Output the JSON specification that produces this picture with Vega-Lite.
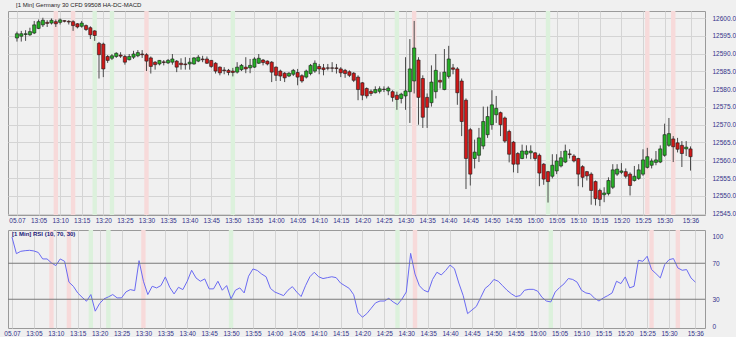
{
"$schema":"https://vega.github.io/schema/vega-lite/v6.json",
"background":"#f0f0f0",
"padding":{"left":3,"top":1,"right":0,"bottom":0},
"config":{"view":{"stroke":"#9a9a9a","fill":"#f0f0f0"},"axis":{"labelFont":"Liberation Sans","labelFontSize":6.5,"labelColor":"#33338a","gridColor":"#d4d4d4","gridWidth":1,"ticks":false,"domain":false,"title":null,"labelOverlap":false},"axisY":{"labelOverlap":false,"labelSeparation":-30},"concat":{"spacing":3}},
"datasets":{
"p":[
{"t":"2019-07-05T13:00","o":12594.4,"h":12596.2,"l":12593.4,"c":12595.6,"r":99},
{"t":"2019-07-05T13:01","o":12594.9,"h":12596.4,"l":12593.4,"c":12595.6,"r":80.7},
{"t":"2019-07-05T13:02","o":12595.4,"h":12596.6,"l":12593.6,"c":12595.6,"r":83.3},
{"t":"2019-07-05T13:03","o":12595.3,"h":12597.3,"l":12595.0,"c":12596.2,"r":84},
{"t":"2019-07-05T13:04","o":12595.8,"h":12599.2,"l":12595.5,"c":12598.1,"r":84.4},
{"t":"2019-07-05T13:05","o":12597.1,"h":12599.6,"l":12596.9,"c":12599.0,"r":83.7},
{"t":"2019-07-05T13:06","o":12598.1,"h":12600.1,"l":12597.5,"c":12599.4,"r":82},
{"t":"2019-07-05T13:07","o":12598.8,"h":12599.4,"l":12597.5,"c":12598.5,"r":74.8},
{"t":"2019-07-05T13:08","o":12598.6,"h":12599.9,"l":12598.2,"c":12599.4,"r":74.8},
{"t":"2019-07-05T13:09","o":12599.0,"h":12599.6,"l":12597.5,"c":12598.4,"r":70.4},
{"t":"2019-07-05T13:10","o":12598.8,"h":12599.9,"l":12598.2,"c":12599.5,"r":67.4},
{"t":"2019-07-05T13:11","o":12599.3,"h":12599.4,"l":12598.8,"c":12599.1,"r":74.8},
{"t":"2019-07-05T13:12","o":12599.1,"h":12599.4,"l":12598.2,"c":12598.9,"r":72.2},
{"t":"2019-07-05T13:13","o":12599.0,"h":12599.4,"l":12596.4,"c":12597.9,"r":49},
{"t":"2019-07-05T13:14","o":12598.4,"h":12598.6,"l":12597.1,"c":12597.5,"r":44.4},
{"t":"2019-07-05T13:15","o":12597.7,"h":12599.2,"l":12597.3,"c":12598.6,"r":37},
{"t":"2019-07-05T13:16","o":12597.9,"h":12598.2,"l":12596.4,"c":12596.8,"r":32.2},
{"t":"2019-07-05T13:17","o":12597.3,"h":12597.7,"l":12594.1,"c":12595.3,"r":27.8},
{"t":"2019-07-05T13:18","o":12596.4,"h":12596.6,"l":12593.6,"c":12595.1,"r":35.2},
{"t":"2019-07-05T13:19","o":12592.9,"h":12593.3,"l":12583.0,"c":12589.7,"r":16.7},
{"t":"2019-07-05T13:20","o":12592.7,"h":12593.1,"l":12583.4,"c":12585.7,"r":25.2},
{"t":"2019-07-05T13:21","o":12589.2,"h":12589.6,"l":12587.4,"c":12588.1,"r":30.4},
{"t":"2019-07-05T13:22","o":12588.7,"h":12589.9,"l":12588.2,"c":12589.4,"r":32.6},
{"t":"2019-07-05T13:23","o":12589.2,"h":12590.4,"l":12588.8,"c":12590.1,"r":35.2},
{"t":"2019-07-05T13:24","o":12589.6,"h":12590.4,"l":12588.8,"c":12589.3,"r":31.5},
{"t":"2019-07-05T13:25","o":12589.2,"h":12589.7,"l":12586.9,"c":12587.6,"r":31.5},
{"t":"2019-07-05T13:26","o":12588.3,"h":12589.9,"l":12588.1,"c":12589.2,"r":38.1},
{"t":"2019-07-05T13:27","o":12589.0,"h":12590.8,"l":12588.5,"c":12589.9,"r":40.7},
{"t":"2019-07-05T13:28","o":12589.4,"h":12591.0,"l":12589.0,"c":12590.3,"r":39.6},
{"t":"2019-07-05T13:29","o":12589.9,"h":12591.0,"l":12588.8,"c":12589.7,"r":72.9},
{"t":"2019-07-05T13:30","o":12589.7,"h":12590.1,"l":12585.1,"c":12587.9,"r":50},
{"t":"2019-07-05T13:31","o":12588.8,"h":12589.2,"l":12584.4,"c":12586.4,"r":35.2},
{"t":"2019-07-05T13:32","o":12587.6,"h":12587.9,"l":12585.5,"c":12586.9,"r":44.4},
{"t":"2019-07-05T13:33","o":12587.1,"h":12588.2,"l":12586.7,"c":12588.1,"r":42.6},
{"t":"2019-07-05T13:34","o":12587.7,"h":12588.2,"l":12586.7,"c":12587.5,"r":45.2},
{"t":"2019-07-05T13:35","o":12587.4,"h":12588.5,"l":12587.1,"c":12588.1,"r":54.8},
{"t":"2019-07-05T13:36","o":12587.6,"h":12589.9,"l":12586.9,"c":12588.5,"r":43.3},
{"t":"2019-07-05T13:37","o":12587.9,"h":12588.2,"l":12584.8,"c":12586.2,"r":35.9},
{"t":"2019-07-05T13:38","o":12587.3,"h":12588.7,"l":12585.5,"c":12586.9,"r":43.3},
{"t":"2019-07-05T13:39","o":12587.1,"h":12589.0,"l":12585.5,"c":12586.9,"r":40.7},
{"t":"2019-07-05T13:40","o":12587.1,"h":12588.8,"l":12585.5,"c":12587.6,"r":50},
{"t":"2019-07-05T13:41","o":12587.1,"h":12589.0,"l":12586.9,"c":12588.8,"r":62.2},
{"t":"2019-07-05T13:42","o":12587.9,"h":12589.6,"l":12587.6,"c":12589.0,"r":53.7},
{"t":"2019-07-05T13:43","o":12588.5,"h":12589.4,"l":12587.6,"c":12588.3,"r":50},
{"t":"2019-07-05T13:44","o":12588.5,"h":12589.2,"l":12587.1,"c":12587.3,"r":52.6},
{"t":"2019-07-05T13:45","o":12588.1,"h":12588.2,"l":12586.0,"c":12586.4,"r":41.5},
{"t":"2019-07-05T13:46","o":12587.3,"h":12587.6,"l":12584.4,"c":12585.1,"r":41.5},
{"t":"2019-07-05T13:47","o":12586.2,"h":12586.4,"l":12583.9,"c":12584.6,"r":50},
{"t":"2019-07-05T13:48","o":12585.4,"h":12586.2,"l":12584.2,"c":12585.2,"r":40},
{"t":"2019-07-05T13:49","o":12585.3,"h":12585.7,"l":12583.9,"c":12584.7,"r":45.2},
{"t":"2019-07-05T13:50","o":12585.1,"h":12586.0,"l":12583.6,"c":12584.7,"r":30.4},
{"t":"2019-07-05T13:51","o":12584.8,"h":12587.6,"l":12584.4,"c":12586.2,"r":40},
{"t":"2019-07-05T13:52","o":12585.5,"h":12587.1,"l":12585.1,"c":12586.7,"r":42.6},
{"t":"2019-07-05T13:53","o":12586.2,"h":12589.0,"l":12584.5,"c":12585.7,"r":37},
{"t":"2019-07-05T13:54","o":12586.0,"h":12588.5,"l":12584.5,"c":12586.7,"r":55.6},
{"t":"2019-07-05T13:55","o":12586.2,"h":12589.0,"l":12586.0,"c":12588.5,"r":63.7},
{"t":"2019-07-05T13:56","o":12587.3,"h":12589.9,"l":12587.1,"c":12588.7,"r":62},
{"t":"2019-07-05T13:57","o":12588.2,"h":12588.5,"l":12586.7,"c":12587.5,"r":58},
{"t":"2019-07-05T13:58","o":12587.9,"h":12588.1,"l":12586.7,"c":12587.1,"r":55},
{"t":"2019-07-05T13:59","o":12587.6,"h":12587.9,"l":12582.0,"c":12584.8,"r":42},
{"t":"2019-07-05T14:00","o":12586.2,"h":12586.4,"l":12582.3,"c":12583.9,"r":38},
{"t":"2019-07-05T14:01","o":12585.1,"h":12585.5,"l":12582.3,"c":12583.7,"r":36},
{"t":"2019-07-05T14:02","o":12584.5,"h":12584.8,"l":12582.0,"c":12583.2,"r":34},
{"t":"2019-07-05T14:03","o":12583.7,"h":12584.8,"l":12583.4,"c":12584.5,"r":40},
{"t":"2019-07-05T14:04","o":12584.2,"h":12585.7,"l":12583.7,"c":12585.3,"r":44},
{"t":"2019-07-05T14:05","o":12584.7,"h":12585.7,"l":12581.1,"c":12583.4,"r":38},
{"t":"2019-07-05T14:06","o":12583.8,"h":12584.2,"l":12581.8,"c":12582.3,"r":33},
{"t":"2019-07-05T14:07","o":12583.4,"h":12585.5,"l":12583.0,"c":12585.1,"r":45},
{"t":"2019-07-05T14:08","o":12584.4,"h":12587.1,"l":12583.9,"c":12586.7,"r":55},
{"t":"2019-07-05T14:09","o":12585.1,"h":12588.1,"l":12584.6,"c":12587.3,"r":60},
{"t":"2019-07-05T14:10","o":12586.4,"h":12587.1,"l":12584.2,"c":12585.7,"r":55},
{"t":"2019-07-05T14:11","o":12586.0,"h":12587.1,"l":12583.9,"c":12585.5,"r":53},
{"t":"2019-07-05T14:12","o":12586.0,"h":12587.1,"l":12585.3,"c":12585.9,"r":54},
{"t":"2019-07-05T14:13","o":12586.0,"h":12587.6,"l":12584.8,"c":12585.9,"r":55},
{"t":"2019-07-05T14:14","o":12586.0,"h":12587.1,"l":12584.4,"c":12585.8,"r":54},
{"t":"2019-07-05T14:15","o":12585.7,"h":12586.2,"l":12583.4,"c":12584.6,"r":48},
{"t":"2019-07-05T14:16","o":12585.3,"h":12585.7,"l":12583.2,"c":12584.4,"r":45},
{"t":"2019-07-05T14:17","o":12584.9,"h":12585.3,"l":12583.4,"c":12583.9,"r":42},
{"t":"2019-07-05T14:18","o":12584.5,"h":12584.8,"l":12582.0,"c":12582.5,"r":35},
{"t":"2019-07-05T14:19","o":12583.4,"h":12583.9,"l":12576.9,"c":12579.9,"r":15},
{"t":"2019-07-05T14:20","o":12581.8,"h":12582.0,"l":12576.9,"c":12578.3,"r":10},
{"t":"2019-07-05T14:21","o":12580.2,"h":12580.5,"l":12577.4,"c":12578.1,"r":14},
{"t":"2019-07-05T14:22","o":12579.4,"h":12579.9,"l":12578.1,"c":12578.8,"r":20},
{"t":"2019-07-05T14:23","o":12579.0,"h":12580.8,"l":12578.8,"c":12579.9,"r":26},
{"t":"2019-07-05T14:24","o":12579.4,"h":12580.8,"l":12578.8,"c":12580.1,"r":28},
{"t":"2019-07-05T14:25","o":12580.0,"h":12580.8,"l":12579.2,"c":12579.9,"r":28},
{"t":"2019-07-05T14:26","o":12579.5,"h":12580.8,"l":12578.3,"c":12580.3,"r":31},
{"t":"2019-07-05T14:27","o":12579.3,"h":12579.7,"l":12576.5,"c":12577.7,"r":27},
{"t":"2019-07-05T14:28","o":12578.3,"h":12579.3,"l":12574.2,"c":12577.1,"r":24},
{"t":"2019-07-05T14:29","o":12577.4,"h":12579.0,"l":12576.0,"c":12578.6,"r":30},
{"t":"2019-07-05T14:30","o":12578.1,"h":12589.0,"l":12574.2,"c":12579.5,"r":38},
{"t":"2019-07-05T14:31","o":12579.3,"h":12594.1,"l":12570.5,"c":12585.7,"r":81},
{"t":"2019-07-05T14:32","o":12582.3,"h":12599.2,"l":12578.8,"c":12591.6,"r":58},
{"t":"2019-07-05T14:33","o":12588.2,"h":12589.0,"l":12570.0,"c":12577.7,"r":45},
{"t":"2019-07-05T14:34","o":12583.0,"h":12583.9,"l":12569.1,"c":12572.1,"r":40},
{"t":"2019-07-05T14:35","o":12577.7,"h":12578.8,"l":12569.1,"c":12574.9,"r":38},
{"t":"2019-07-05T14:36","o":12576.2,"h":12586.7,"l":12575.1,"c":12582.0,"r":52},
{"t":"2019-07-05T14:37","o":12579.3,"h":12589.9,"l":12577.4,"c":12585.3,"r":60},
{"t":"2019-07-05T14:38","o":12582.5,"h":12584.8,"l":12580.2,"c":12582.0,"r":57},
{"t":"2019-07-05T14:39","o":12579.9,"h":12591.3,"l":12579.7,"c":12584.8,"r":62},
{"t":"2019-07-05T14:40","o":12583.6,"h":12592.2,"l":12583.0,"c":12588.5,"r":68},
{"t":"2019-07-05T14:41","o":12586.0,"h":12587.1,"l":12584.2,"c":12585.6,"r":64},
{"t":"2019-07-05T14:42","o":12585.7,"h":12586.2,"l":12575.6,"c":12579.0,"r":48},
{"t":"2019-07-05T14:43","o":12582.3,"h":12583.0,"l":12566.8,"c":12570.9,"r":34},
{"t":"2019-07-05T14:44","o":12576.9,"h":12577.4,"l":12551.9,"c":12560.5,"r":14},
{"t":"2019-07-05T14:45","o":12568.6,"h":12569.1,"l":12552.9,"c":12556.1,"r":18},
{"t":"2019-07-05T14:46","o":12560.5,"h":12565.8,"l":12557.7,"c":12562.3,"r":22},
{"t":"2019-07-05T14:47","o":12561.4,"h":12569.1,"l":12559.5,"c":12566.3,"r":32},
{"t":"2019-07-05T14:48","o":12564.0,"h":12575.1,"l":12563.1,"c":12570.9,"r":42},
{"t":"2019-07-05T14:49","o":12567.2,"h":12575.1,"l":12566.3,"c":12572.3,"r":46},
{"t":"2019-07-05T14:50","o":12570.0,"h":12579.7,"l":12568.6,"c":12575.6,"r":52},
{"t":"2019-07-05T14:51","o":12572.8,"h":12578.1,"l":12570.5,"c":12574.6,"r":50},
{"t":"2019-07-05T14:52","o":12573.4,"h":12573.7,"l":12566.8,"c":12570.0,"r":45},
{"t":"2019-07-05T14:53","o":12571.9,"h":12572.3,"l":12564.9,"c":12565.4,"r":40},
{"t":"2019-07-05T14:54","o":12568.1,"h":12568.6,"l":12559.4,"c":12561.7,"r":36},
{"t":"2019-07-05T14:55","o":12565.1,"h":12565.4,"l":12556.6,"c":12558.9,"r":33},
{"t":"2019-07-05T14:56","o":12561.9,"h":12562.3,"l":12556.4,"c":12558.9,"r":34},
{"t":"2019-07-05T14:57","o":12560.5,"h":12564.4,"l":12560.3,"c":12562.6,"r":40},
{"t":"2019-07-05T14:58","o":12561.7,"h":12564.2,"l":12560.5,"c":12562.6,"r":41},
{"t":"2019-07-05T14:59","o":12562.1,"h":12564.2,"l":12560.3,"c":12562.6,"r":41},
{"t":"2019-07-05T15:00","o":12562.1,"h":12562.3,"l":12559.8,"c":12560.5,"r":39},
{"t":"2019-07-05T15:01","o":12561.4,"h":12561.9,"l":12552.7,"c":12556.4,"r":32},
{"t":"2019-07-05T15:02","o":12558.9,"h":12559.2,"l":12553.1,"c":12554.7,"r":28},
{"t":"2019-07-05T15:03","o":12556.8,"h":12557.0,"l":12548.1,"c":12554.0,"r":27},
{"t":"2019-07-05T15:04","o":12555.5,"h":12561.7,"l":12554.9,"c":12558.6,"r":38},
{"t":"2019-07-05T15:05","o":12557.0,"h":12561.7,"l":12556.1,"c":12559.8,"r":43},
{"t":"2019-07-05T15:06","o":12558.4,"h":12562.6,"l":12558.0,"c":12560.7,"r":47},
{"t":"2019-07-05T15:07","o":12559.5,"h":12564.4,"l":12559.2,"c":12562.6,"r":53},
{"t":"2019-07-05T15:08","o":12561.8,"h":12563.1,"l":12560.5,"c":12561.6,"r":52},
{"t":"2019-07-05T15:09","o":12561.2,"h":12561.7,"l":12559.4,"c":12559.8,"r":49},
{"t":"2019-07-05T15:10","o":12560.5,"h":12560.7,"l":12552.7,"c":12556.1,"r":40},
{"t":"2019-07-05T15:11","o":12558.2,"h":12558.6,"l":12552.4,"c":12555.2,"r":37},
{"t":"2019-07-05T15:12","o":12556.8,"h":12557.0,"l":12554.3,"c":12555.6,"r":36},
{"t":"2019-07-05T15:13","o":12556.1,"h":12556.6,"l":12547.5,"c":12551.5,"r":31},
{"t":"2019-07-05T15:14","o":12554.0,"h":12554.3,"l":12547.3,"c":12549.2,"r":28},
{"t":"2019-07-05T15:15","o":12551.5,"h":12552.0,"l":12547.1,"c":12549.0,"r":31.5},
{"t":"2019-07-05T15:16","o":12550.3,"h":12552.4,"l":12548.2,"c":12550.8,"r":34},
{"t":"2019-07-05T15:17","o":12550.6,"h":12555.2,"l":12550.1,"c":12554.3,"r":37},
{"t":"2019-07-05T15:18","o":12552.4,"h":12558.9,"l":12551.9,"c":12557.3,"r":50},
{"t":"2019-07-05T15:19","o":12556.1,"h":12558.9,"l":12555.6,"c":12557.5,"r":47.4},
{"t":"2019-07-05T15:20","o":12556.6,"h":12559.2,"l":12556.1,"c":12557.0,"r":54.8},
{"t":"2019-07-05T15:21","o":12556.8,"h":12557.7,"l":12554.9,"c":12555.5,"r":42.6},
{"t":"2019-07-05T15:22","o":12556.1,"h":12556.6,"l":12550.1,"c":12552.9,"r":44.4},
{"t":"2019-07-05T15:23","o":12554.3,"h":12558.4,"l":12554.0,"c":12555.5,"r":73.3},
{"t":"2019-07-05T15:24","o":12554.9,"h":12558.9,"l":12554.5,"c":12557.3,"r":72.2},
{"t":"2019-07-05T15:25","o":12556.1,"h":12563.1,"l":12555.6,"c":12560.1,"r":77.8},
{"t":"2019-07-05T15:26","o":12558.0,"h":12563.5,"l":12557.7,"c":12561.0,"r":63},
{"t":"2019-07-05T15:27","o":12558.6,"h":12560.5,"l":12557.7,"c":12559.8,"r":58.5},
{"t":"2019-07-05T15:28","o":12559.4,"h":12562.6,"l":12558.6,"c":12560.1,"r":53.7},
{"t":"2019-07-05T15:29","o":12559.5,"h":12564.2,"l":12559.2,"c":12563.2,"r":68.5},
{"t":"2019-07-05T15:30","o":12561.4,"h":12570.3,"l":12561.0,"c":12567.2,"r":74},
{"t":"2019-07-05T15:31","o":12564.2,"h":12571.9,"l":12563.8,"c":12567.5,"r":75.2},
{"t":"2019-07-05T15:32","o":12566.0,"h":12566.8,"l":12559.5,"c":12563.8,"r":64.8},
{"t":"2019-07-05T15:33","o":12564.9,"h":12566.3,"l":12562.2,"c":12563.1,"r":62.2},
{"t":"2019-07-05T15:34","o":12564.2,"h":12565.4,"l":12558.1,"c":12561.9,"r":63},
{"t":"2019-07-05T15:35","o":12563.2,"h":12565.4,"l":12561.2,"c":12563.7,"r":53.7},
{"t":"2019-07-05T15:36","o":12563.2,"h":12563.9,"l":12557.1,"c":12561.0,"r":49}
],
"sig":[
{"t":"2019-07-05T13:09","s":"sell"},{"t":"2019-07-05T13:13","s":"sell"},{"t":"2019-07-05T13:18","s":"buy"},{"t":"2019-07-05T13:22","s":"buy"},{"t":"2019-07-05T13:30","s":"sell"},{"t":"2019-07-05T13:50","s":"buy"},{"t":"2019-07-05T14:28","s":"buy"},{"t":"2019-07-05T14:32","s":"sell"},{"t":"2019-07-05T15:03","s":"buy"},{"t":"2019-07-05T15:26","s":"sell"},{"t":"2019-07-05T15:32","s":"sell"}
],
"lv":[{"v":70},{"v":30}],
"lab":[{"t":"2019-07-05T13:00","label":"[1 Min] RSI (10, 70, 30)"}]
},
"vconcat":[
{
"title":{"text":"[1 Min] Germany 30 CFD     99508 HA-DC-MACD","anchor":"start","fontSize":6,"fontWeight":"normal","color":"#222","font":"Liberation Sans","offset":1,"dx":8},
"width":697,"height":204,
"encoding":{"x":{"field":"t","type":"temporal","scale":{"domain":[{"year":2019,"month":7,"date":5,"hours":12,"minutes":59,"seconds":5},{"year":2019,"month":7,"date":5,"hours":15,"minutes":38,"seconds":12}]},
"axis":{"labelPadding":2,"labelOverlap":false,"format":"%H:%M","labelExpr":"hours(datum.value) == 13 && minutes(datum.value) == 0 ? '05.07' : timeFormat(datum.value, '%H:%M')","values":[
{"year":2019,"month":7,"date":5,"hours":13,"minutes":0},{"year":2019,"month":7,"date":5,"hours":13,"minutes":5},{"year":2019,"month":7,"date":5,"hours":13,"minutes":10},{"year":2019,"month":7,"date":5,"hours":13,"minutes":15},{"year":2019,"month":7,"date":5,"hours":13,"minutes":20},{"year":2019,"month":7,"date":5,"hours":13,"minutes":25},{"year":2019,"month":7,"date":5,"hours":13,"minutes":30},{"year":2019,"month":7,"date":5,"hours":13,"minutes":35},{"year":2019,"month":7,"date":5,"hours":13,"minutes":40},{"year":2019,"month":7,"date":5,"hours":13,"minutes":45},{"year":2019,"month":7,"date":5,"hours":13,"minutes":50},{"year":2019,"month":7,"date":5,"hours":13,"minutes":55},
{"year":2019,"month":7,"date":5,"hours":14,"minutes":0},{"year":2019,"month":7,"date":5,"hours":14,"minutes":5},{"year":2019,"month":7,"date":5,"hours":14,"minutes":10},{"year":2019,"month":7,"date":5,"hours":14,"minutes":15},{"year":2019,"month":7,"date":5,"hours":14,"minutes":20},{"year":2019,"month":7,"date":5,"hours":14,"minutes":25},{"year":2019,"month":7,"date":5,"hours":14,"minutes":30},{"year":2019,"month":7,"date":5,"hours":14,"minutes":35},{"year":2019,"month":7,"date":5,"hours":14,"minutes":40},{"year":2019,"month":7,"date":5,"hours":14,"minutes":45},{"year":2019,"month":7,"date":5,"hours":14,"minutes":50},{"year":2019,"month":7,"date":5,"hours":14,"minutes":55},
{"year":2019,"month":7,"date":5,"hours":15,"minutes":0},{"year":2019,"month":7,"date":5,"hours":15,"minutes":5},{"year":2019,"month":7,"date":5,"hours":15,"minutes":10},{"year":2019,"month":7,"date":5,"hours":15,"minutes":15},{"year":2019,"month":7,"date":5,"hours":15,"minutes":20},{"year":2019,"month":7,"date":5,"hours":15,"minutes":25},{"year":2019,"month":7,"date":5,"hours":15,"minutes":30},{"year":2019,"month":7,"date":5,"hours":15,"minutes":36}]}}},
"layer":[
{"data":{"name":"sig"},"mark":{"type":"rule","strokeWidth":4.4},"encoding":{"color":{"field":"s","type":"nominal","scale":{"domain":["buy","sell"],"range":["#dcf1dc","#f7dada"]},"legend":null}}},
{"data":{"name":"p"},"mark":{"type":"rule","color":"#4a4a4a","strokeWidth":1},"encoding":{"y":{"field":"l","type":"quantitative","scale":{"domain":[12544.6,12602],"nice":false,"zero":false},"axis":{"orient":"right","labelPadding":7,"labelOverlap":false,"labelSeparation":-30,"format":".1f","values":[12545,12550,12555,12560,12565,12570,12575,12580,12585,12590,12595,12600]}},"y2":{"field":"h"}}},
{"data":{"name":"p"},"mark":{"type":"bar","size":3.2,"stroke":"#1a1a1a","strokeWidth":0.6},"encoding":{"y":{"field":"o","type":"quantitative","axis":{"orient":"right","labelPadding":7,"labelOverlap":false,"labelSeparation":-30,"format":".1f","values":[12545,12550,12555,12560,12565,12570,12575,12580,12585,12590,12595,12600]}},"y2":{"field":"c"},"color":{"condition":{"test":"datum.c >= datum.o","value":"#26b026"},"value":"#d01818"}}}
]
},
{
"width":697,"height":98,
"encoding":{"x":{"field":"t","type":"temporal","scale":{"domain":[{"year":2019,"month":7,"date":5,"hours":12,"minutes":59,"seconds":5},{"year":2019,"month":7,"date":5,"hours":15,"minutes":38,"seconds":12}]},
"axis":{"labelPadding":2,"labelOverlap":false,"format":"%H:%M","labelExpr":"hours(datum.value) == 13 && minutes(datum.value) == 0 ? '05.07' : timeFormat(datum.value, '%H:%M')","values":[
{"year":2019,"month":7,"date":5,"hours":13,"minutes":0},{"year":2019,"month":7,"date":5,"hours":13,"minutes":5},{"year":2019,"month":7,"date":5,"hours":13,"minutes":10},{"year":2019,"month":7,"date":5,"hours":13,"minutes":15},{"year":2019,"month":7,"date":5,"hours":13,"minutes":20},{"year":2019,"month":7,"date":5,"hours":13,"minutes":25},{"year":2019,"month":7,"date":5,"hours":13,"minutes":30},{"year":2019,"month":7,"date":5,"hours":13,"minutes":35},{"year":2019,"month":7,"date":5,"hours":13,"minutes":40},{"year":2019,"month":7,"date":5,"hours":13,"minutes":45},{"year":2019,"month":7,"date":5,"hours":13,"minutes":50},{"year":2019,"month":7,"date":5,"hours":13,"minutes":55},
{"year":2019,"month":7,"date":5,"hours":14,"minutes":0},{"year":2019,"month":7,"date":5,"hours":14,"minutes":5},{"year":2019,"month":7,"date":5,"hours":14,"minutes":10},{"year":2019,"month":7,"date":5,"hours":14,"minutes":15},{"year":2019,"month":7,"date":5,"hours":14,"minutes":20},{"year":2019,"month":7,"date":5,"hours":14,"minutes":25},{"year":2019,"month":7,"date":5,"hours":14,"minutes":30},{"year":2019,"month":7,"date":5,"hours":14,"minutes":35},{"year":2019,"month":7,"date":5,"hours":14,"minutes":40},{"year":2019,"month":7,"date":5,"hours":14,"minutes":45},{"year":2019,"month":7,"date":5,"hours":14,"minutes":50},{"year":2019,"month":7,"date":5,"hours":14,"minutes":55},
{"year":2019,"month":7,"date":5,"hours":15,"minutes":0},{"year":2019,"month":7,"date":5,"hours":15,"minutes":5},{"year":2019,"month":7,"date":5,"hours":15,"minutes":10},{"year":2019,"month":7,"date":5,"hours":15,"minutes":15},{"year":2019,"month":7,"date":5,"hours":15,"minutes":20},{"year":2019,"month":7,"date":5,"hours":15,"minutes":25},{"year":2019,"month":7,"date":5,"hours":15,"minutes":30},{"year":2019,"month":7,"date":5,"hours":15,"minutes":36}]}}},
"layer":[
{"data":{"name":"sig"},"mark":{"type":"rule","strokeWidth":4.4},"encoding":{"color":{"field":"s","type":"nominal","scale":{"domain":["buy","sell"],"range":["#dcf1dc","#f7dada"]},"legend":null}}},
{"data":{"name":"p"},"mark":{"type":"line","color":"#6a6af2","strokeWidth":1},"encoding":{"y":{"field":"r","type":"quantitative","scale":{"domain":[-2,107],"nice":false,"zero":false},"axis":{"orient":"right","labelPadding":7,"labelOverlap":false,"labelSeparation":-30,"grid":false,"values":[0,30,70,100]}}}},
{"data":{"name":"lv"},"mark":{"type":"rule","color":"#7a7a7a","strokeWidth":1.2},"encoding":{"x":null,"y":{"field":"v","type":"quantitative","axis":{"orient":"right","labelPadding":7,"labelOverlap":false,"labelSeparation":-30,"grid":false,"values":[0,30,70,100]}}}},
{"data":{"name":"lab"},"mark":{"type":"text","align":"left","baseline":"middle","fontSize":6,"font":"Liberation Sans","color":"#1a1a7a","fontWeight":"bold"},"encoding":{"y":{"datum":102,"axis":{"orient":"right","labelPadding":7,"labelOverlap":false,"labelSeparation":-30,"grid":false,"values":[0,30,70,100]}},"text":{"field":"label"}}}
]
}
]
}
